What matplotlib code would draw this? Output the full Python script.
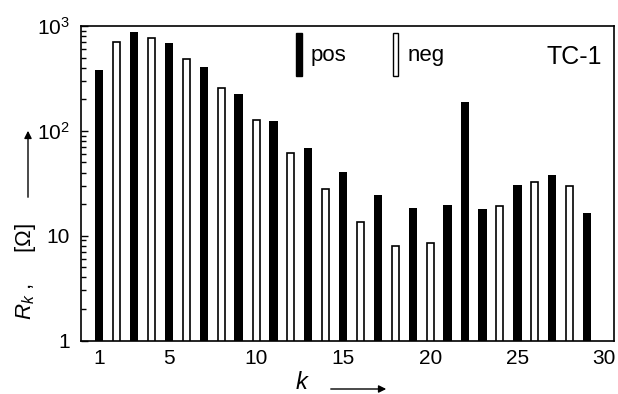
import matplotlib
matplotlib.use("Agg")
import matplotlib.pyplot as plt
from matplotlib.patches import Rectangle, FancyArrowPatch

# --- data (TC-1) ---
k_pos = [1, 3, 5, 7, 9, 11, 13, 15, 17, 19, 21, 22, 23, 25, 27, 29]
r_pos = [381, 879, 695, 405, 225, 125, 69, 40.3, 24.6, 18.5, 19.6, 190, 18.0, 30.5, 37.9, 16.6]
k_neg = [2, 4, 6, 8, 10, 12, 14, 16, 18, 20, 24, 26, 28]
r_neg = [710, 775, 482, 257, 127, 62, 28.1, 13.6, 8.03, 8.46, 19.3, 32.7, 29.8]
x_ticks = [1, 5, 10, 15, 20, 25, 30]
y_ticks = [1, 10, 100, 1000]
y_ticklabels = ["1", "10", "$10^2$", "$10^3$"]

plt.rcParams["font.family"] = ["Liberation Sans", "DejaVu Sans"]
plt.rcParams["mathtext.fontset"] = "custom"
plt.rcParams["mathtext.rm"] = "Liberation Sans"
plt.rcParams["mathtext.it"] = "Liberation Sans:italic"

W, H = 618, 394
fig = plt.figure(figsize=(W / 100, H / 100), dpi=100)
ax = fig.add_axes([81 / W, (H - 340.5) / H, 533 / W, 314.5 / H])

ax.bar(k_pos, r_pos, width=0.48, color="black", label="pos")
ax.bar(k_neg, r_neg, width=0.40, color="white", edgecolor="black",
       linewidth=1.2, label="neg")

ax.set_yscale("log")
ax.set_ylim(1, 1000)
ax.set_xlim(-0.05, 30.55)

ax.set_yticks(y_ticks)
ax.set_yticklabels(y_ticklabels, fontsize=15)
ax.set_xticks(x_ticks)
ax.set_xticklabels([str(t) for t in x_ticks], fontsize=15)
ax.tick_params(axis="x", length=0, pad=6)
ax.tick_params(axis="y", which="major", direction="in", length=5, width=1, pad=8)
ax.tick_params(axis="y", which="minor", direction="in", length=3.5, width=1)
for s in ax.spines.values():
    s.set_linewidth(1.2)

# legend with thin upright bar glyphs
h_pos = Rectangle((0, 0), 1, 1, facecolor="black", edgecolor="black")
h_neg = Rectangle((0, 0), 1, 1, facecolor="white", edgecolor="black", linewidth=1.0)
ax.legend([h_pos, h_neg], ["pos", "neg"], ncol=2, frameon=False, fontsize=16,
          handlelength=0.25, handleheight=2.6, handletextpad=0.4,
          columnspacing=2.1, borderpad=0, borderaxespad=0,
          loc="upper left", bbox_to_anchor=((296 - 81) / 533, (340.5 - 33) / 314.5))
ax.text(0.925, 0.9, "TC-1", transform=ax.transAxes, fontsize=18,
        ha="center", va="center")

# axis labels with arrows
fig.text(25 / W, (H - 271) / H, r"$R_k$ ,     [$\Omega$]", rotation=90,
         fontsize=16, ha="center", va="center")
fig.text(302 / W, (H - 383) / H, r"$k$", fontsize=17, ha="center", va="center")
fig.patches.append(FancyArrowPatch(
    (28 / W, (H - 200) / H), (28 / W, (H - 128) / H), transform=fig.transFigure,
    arrowstyle="-|>", mutation_scale=11, linewidth=1, color="black"))
fig.patches.append(FancyArrowPatch(
    (328 / W, (H - 389) / H), (389 / W, (H - 389) / H), transform=fig.transFigure,
    arrowstyle="-|>", mutation_scale=11, linewidth=1, color="black"))

fig.savefig("out.png", dpi=100)
